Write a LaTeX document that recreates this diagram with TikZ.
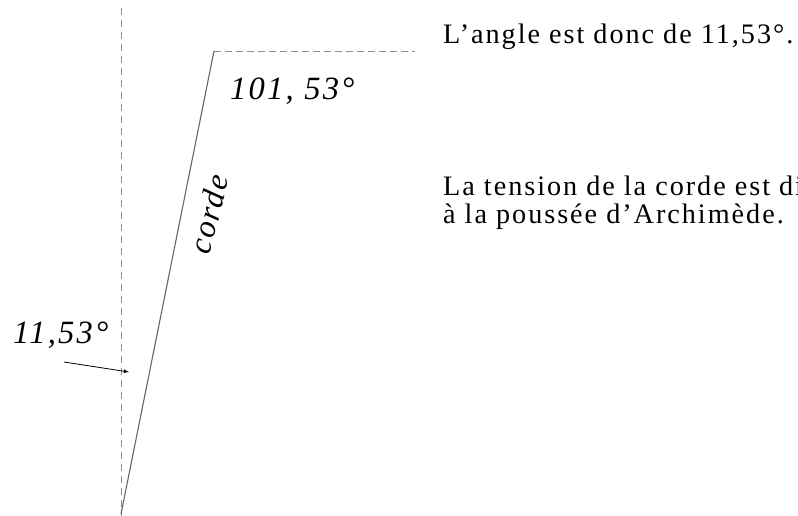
\documentclass[tikz,border=0pt]{standalone}
\usepackage{fontspec}
\setmainfont{Liberation Serif}[LetterSpace=7]
\begin{document}
\begin{tikzpicture}[x=1pt,y=-1pt,>=latex,
   guide/.style={black!45,line width=0.9pt,dash pattern=on 7pt off 5pt},
   txt/.style={font=\fontsize{28.2}{30}\selectfont,anchor=base west,inner sep=0pt},
   lbl/.style={font=\itshape\fontsize{32.5}{36}\selectfont,anchor=base west,inner sep=0pt}]
   \useasboundingbox (0,0) rectangle (798,516);
   %points
   \coordinate (vtop) at (121,8);
   \coordinate (vbas) at (121,516);
   \coordinate (bas) at (121,514);
   \coordinate (haut) at (214,51);
   \coordinate (hfin) at (415,51);
   %verticale et horizontale
   \draw[guide] (vtop) -- (vbas);
   \draw[guide,dash pattern=on 7pt off 4pt] (haut) -- (hfin);
   %corde
   \draw[black!60,line width=1.1pt] (bas) -- (haut);
   \path (209,214) node (corde) [font=\itshape\fontsize{32}{36}\selectfont,rotate=76] {corde};
   %angles
   \path (230,100) node (ahaut) [lbl] {101, 53°};
   \path (13,343) node (abas) [lbl] {11,53°};
   \coordinate (fa) at (64,362);
   \coordinate (fb) at (129,372);
   \draw[->,line width=0.8pt] (fa) -- (fb);
   %texte
   \path (443,44) node (t1) [txt] {L’angle est donc de 11,53°.};
   \path (443,195) node (t2) [txt] {La tension de la corde est di};
   \path (443,223) node (t3) [txt] {à la poussée d’Archimède.};
\end{tikzpicture}
\end{document}
